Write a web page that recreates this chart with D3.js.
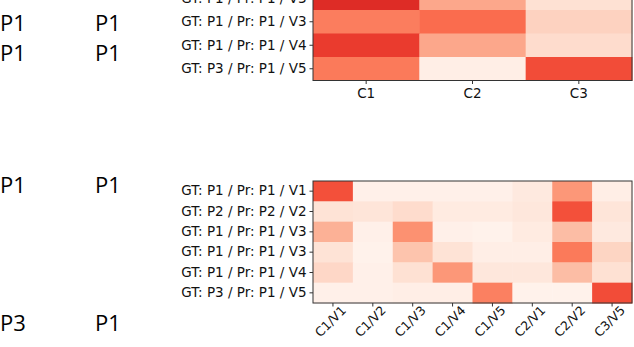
<!DOCTYPE html>
<html>
<head>
<meta charset="utf-8">
<script src="https://cdn.jsdelivr.net/npm/d3@7"></script>
<style>
  body { margin: 0; background: #fff; }
  svg { display: block; }
</style>
</head>
<body>
<svg id="chart" width="634" height="347"></svg>
<script>
// side labels (GT / Pr)
const sideLabels = [
  { gt: 'P1', pr: 'P1', y: 22 },
  { gt: 'P1', pr: 'P1', y: 52 },
  { gt: 'P1', pr: 'P1', y: 184 },
  { gt: 'P3', pr: 'P1', y: 322 }
];

// top heatmap (only the lower rows are in view)
const topRows = ['GT: P1 / Pr: P1 / V3', 'GT: P1 / Pr: P1 / V3', 'GT: P1 / Pr: P1 / V4', 'GT: P3 / Pr: P1 / V5'];
const topCols = ['C1', 'C2', 'C3'];
const topValues = [
  [0.68, 0.31, 0.11],
  [0.44, 0.49, 0.17],
  [0.63, 0.31, 0.13],
  [0.45, 0.04, 0.58]
];

// bottom heatmap
const botRows = ['GT: P1 / Pr: P1 / V1', 'GT: P2 / Pr: P2 / V2', 'GT: P1 / Pr: P1 / V3', 'GT: P1 / Pr: P1 / V3', 'GT: P1 / Pr: P1 / V4', 'GT: P3 / Pr: P1 / V5'];
const botCols = ['C1/V1', 'C1/V2', 'C1/V3', 'C1/V4', 'C1/V5', 'C2/V1', 'C2/V2', 'C3/V5'];
const botValues = [
  [0.57, 0.03, 0.03, 0.03, 0.03, 0.07, 0.36, 0.04],
  [0.10, 0.09, 0.13, 0.06, 0.06, 0.08, 0.57, 0.09],
  [0.28, 0.03, 0.38, 0.03, 0.02, 0.06, 0.24, 0.07],
  [0.10, 0.02, 0.22, 0.10, 0.04, 0.04, 0.45, 0.16],
  [0.15, 0.03, 0.11, 0.36, 0.08, 0.08, 0.24, 0.11],
  [0.03, 0.03, 0.04, 0.04, 0.43, 0.02, 0.02, 0.58]
];

const svg = d3.select('#chart');
const color = v => d3.interpolateReds(v);

svg.selectAll('g.side')
  .data(sideLabels)
  .enter()
  .append('g')
  .attr('class', 'side')
  .each(function (d) {
    const g = d3.select(this);
    g.append('text').attr('x', 0).attr('y', d.y).text(d.gt);
    g.append('text').attr('x', 95).attr('y', d.y).text(d.pr);
  })
  .selectAll('text')
  .attr('dominant-baseline', 'central')
  .style('font-family', '"Open Sans", "Noto Sans", sans-serif')
  .style('font-size', '22px')
  .style('fill', '#000');

function heatmap(opts) {
  const { rows, cols, values, left, right, top, bottom, rotate } = opts;
  const g = svg.append('g');

  const x = d3.scaleBand().domain(d3.range(cols.length)).range([left, right]);
  const y = d3.scaleBand().domain(d3.range(rows.length)).range([top, bottom]);

  values.forEach((row, i) => {
    g.selectAll(null)
      .data(row)
      .enter()
      .append('rect')
      .attr('x', (d, j) => x(j))
      .attr('y', y(i))
      .attr('width', x.bandwidth() + 0.5)
      .attr('height', y.bandwidth() + 0.5)
      .attr('fill', d => color(d));
  });

  g.append('rect')
    .attr('x', left)
    .attr('y', top)
    .attr('width', right - left)
    .attr('height', bottom - top)
    .attr('fill', 'none')
    .attr('stroke', '#333')
    .attr('stroke-width', 1);

  const yAxis = g.append('g')
    .attr('transform', `translate(${left},0)`)
    .call(d3.axisLeft(y).tickSize(3.5).tickPadding(3).tickFormat(i => rows[i]));
  yAxis.select('.domain').remove();

  const xAxis = g.append('g')
    .attr('transform', `translate(0,${bottom})`)
    .call(d3.axisBottom(x).tickSize(3.5).tickPadding(3).tickFormat(i => cols[i]));
  xAxis.select('.domain').remove();

  g.selectAll('.tick line').attr('stroke', '#333');
  g.selectAll('.tick text')
    .style('font-family', '"DejaVu Sans", sans-serif')
    .style('font-size', '13.5px')
    .style('fill', '#111');

  if (rotate) {
    xAxis.selectAll('.tick text')
      .attr('text-anchor', 'end')
      .attr('dy', null)
      .attr('y', 6)
      .attr('x', 4)
      .attr('transform', 'rotate(-45)')
      .attr('dominant-baseline', 'hanging')
      .style('font-size', '12.5px');
  } else {
    xAxis.selectAll('.tick text').attr('dy', '0.85em');
  }
}

heatmap({ rows: topRows, cols: topCols, values: topValues, left: 313, right: 632, top: -13.5, bottom: 80.5 });
heatmap({ rows: botRows, cols: botCols, values: botValues, left: 313, right: 632, top: 181, bottom: 303, rotate: true });
</script>
</body>
</html>
